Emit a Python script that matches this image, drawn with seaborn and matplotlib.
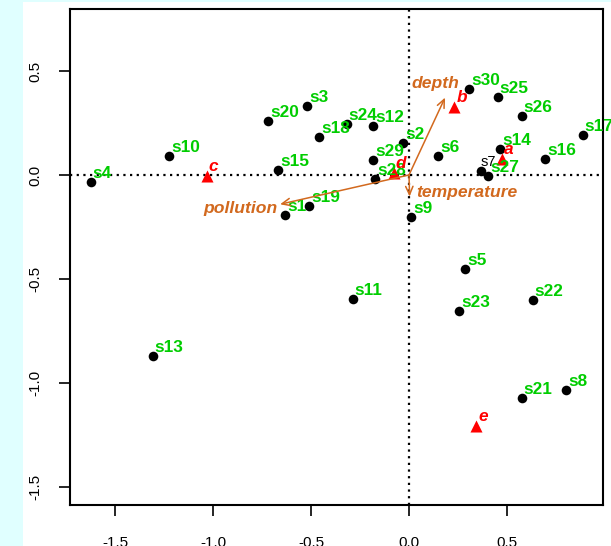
import numpy as np
import pandas as pd
import seaborn as sns
import matplotlib
matplotlib.use("Agg")
import matplotlib.pyplot as plt
from matplotlib.patches import Rectangle

# site scores
site_names = ["s%d" % i for i in range(1, 31)]
site_x = [-0.631, -0.031, -0.520, -1.625, 0.287, 0.148, 0.369, 0.803, 0.012, -1.223,
          -0.287, -0.184, -1.308, 0.466, -0.668, 0.696, 0.886, -0.458, -0.509, -0.718,
          0.575, 0.631, 0.255, -0.318, 0.452, 0.575, 0.403, -0.172, -0.184, 0.306]
site_y = [-0.192, 0.154, 0.330, -0.035, -0.452, 0.090, 0.021, -1.034, -0.204, 0.091,
          -0.598, 0.236, -0.869, 0.123, 0.022, 0.077, 0.191, 0.184, -0.147, 0.261,
          -1.071, -0.603, -0.655, 0.245, 0.373, 0.285, -0.005, -0.021, 0.072, 0.412]

# species scores
species_names = ["a", "b", "c", "d", "e"]
species_x = [0.476, 0.231, -1.032, -0.077, 0.342]
species_y = [0.075, 0.325, -0.005, 0.011, -1.205]

# environmental arrows
env_names = ["pollution", "depth", "temperature"]
env_x = [-0.658, 0.184, 0.003]
env_y = [-0.141, 0.372, -0.104]
env_label_x = [-0.862, 0.133, 0.293]
env_label_y = [-0.159, 0.442, -0.082]

sites = pd.DataFrame({"name": site_names, "x": site_x, "y": site_y})
species = pd.DataFrame({"name": species_names, "x": species_x, "y": species_y})

sns.set_style("white")
plt.rcParams["font.family"] = ["Liberation Sans", "DejaVu Sans"]

GREEN = "#00CD00"
ORANGE = "#D2691E"

fig = plt.figure(figsize=(6.11, 5.46), dpi=100)
fig.patches.append(Rectangle((0, 0), 23 / 611, 1, transform=fig.transFigure,
                             facecolor="#E0FFFF", edgecolor="none", zorder=0))
fig.patches.append(Rectangle((0, 1 - 2 / 546), 1, 2 / 546, transform=fig.transFigure,
                             facecolor="#E0FFFF", edgecolor="none", zorder=0))
ax = fig.add_axes([70 / 611, 41 / 546, 533 / 611, 496 / 546])

ax.axhline(0, color="black", lw=1.6, ls=(0, (1, 2)), zorder=1)
ax.axvline(0, color="black", lw=1.6, ls=(0, (1, 2)), zorder=1)

sns.scatterplot(data=sites, x="x", y="y", ax=ax, color="black", s=48,
                edgecolor="black", linewidth=0, zorder=3, legend=False)
sns.scatterplot(data=species, x="x", y="y", ax=ax, color="red", marker="^", s=75,
                edgecolor="red", linewidth=0, zorder=4, legend=False)

for _, r in sites.iterrows():
    if r["name"] == "s7":
        ax.annotate("s7", (r.x, r.y), xytext=(-1, 5), textcoords="offset pixels",
                    color="black", fontsize=10.5, ha="left", va="baseline", zorder=5)
    else:
        ax.annotate(r["name"], (r.x, r.y), xytext=(2, 4), textcoords="offset pixels",
                    color=GREEN, fontsize=12.4, fontweight="bold",
                    ha="left", va="baseline", zorder=5)

for _, r in species.iterrows():
    ax.annotate(r["name"], (r.x, r.y), xytext=(2, 5), textcoords="offset pixels",
                color="red", fontsize=12.4, fontweight="bold", fontstyle="italic",
                ha="left", va="baseline", zorder=6)

for nm, ex, ey, lx, ly in zip(env_names, env_x, env_y, env_label_x, env_label_y):
    ax.annotate("", xy=(ex, ey), xytext=(0, 0),
                arrowprops=dict(arrowstyle="->,head_length=0.5,head_width=0.22",
                                color=ORANGE, lw=1.1, shrinkA=0, shrinkB=0,
                                mutation_scale=12), zorder=5)
    ax.text(lx, ly, nm, color=ORANGE, fontsize=12.6, fontweight="bold",
            fontstyle="italic", ha="center", va="center", zorder=6)

ax.set_xlim(-1.730, 0.990)
ax.set_ylim(-1.587, 0.798)
ax.set_xticks([-1.5, -1.0, -0.5, 0.0, 0.5])
ax.set_yticks([-1.5, -1.0, -0.5, 0.0, 0.5])
ax.set_xticklabels(["-1.5", "-1.0", "-0.5", "0.0", "0.5"])
ax.set_yticklabels(["-1.5", "-1.0", "-0.5", "0.0", "0.5"], rotation=90, va="center")
ax.set_xlabel("")
ax.set_ylabel("")
ax.tick_params(axis="both", direction="out", length=8, width=1.2, labelsize=11,
               colors="black", left=True, bottom=True)
ax.tick_params(axis="x", pad=14)
ax.tick_params(axis="y", pad=12)
for sp in ax.spines.values():
    sp.set_color("black")
    sp.set_linewidth(1.5)

fig.savefig("out.png", dpi=100)
